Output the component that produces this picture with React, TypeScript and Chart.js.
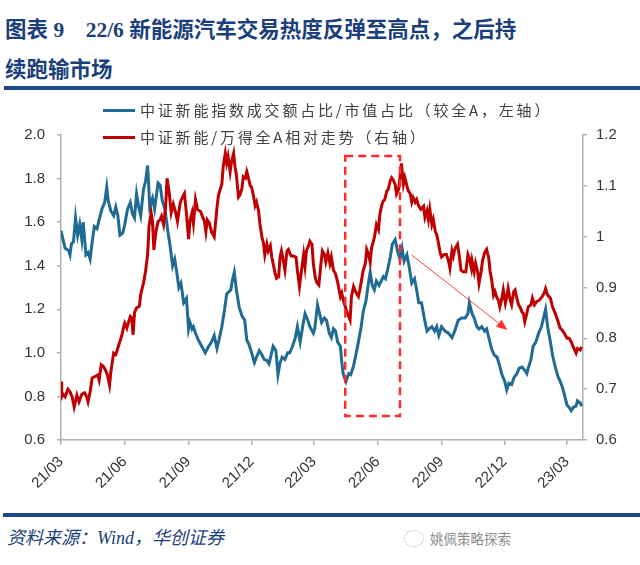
import React, { useEffect, useRef } from "react";
import { Chart, registerables } from "chart.js";

Chart.register(...registerables);

// ---- data ----
const titleLine1 = "图表 9　22/6 新能源汽车交易热度反弹至高点，之后持";
const titleLine2 = "续跑输市场";
const sourceText = "资料来源：Wind，华创证券";
const watermarkText = "姚佩策略探索";

const seriesNames = [
  "中证新能指数成交额占比/市值占比（较全A，左轴）",
  "中证新能/万得全A相对走势（右轴）",
];

// day offsets from 2021-03-01
const xTickDays = [0, 92, 184, 275, 365, 457, 549, 640, 730];
const xTickLabels = ["21/03", "21/06", "21/09", "21/12", "22/03", "22/06", "22/09", "22/12", "23/03"];
const xMaxDay = 753;

const blueDays = [
  0, 3, 6, 11, 13, 15, 18, 21, 24, 27, 30, 32, 36, 39, 42, 45, 48, 52, 55, 59, 63, 66, 68, 72, 76, 79, 82, 85, 89, 92,
  96, 100, 103, 106, 109, 112, 115, 119, 122, 125, 128, 132, 135, 140, 143, 146, 150, 154, 157, 161, 164, 167, 170, 173, 177,
  181, 184, 186, 189, 191, 194, 198, 203, 208, 213, 217, 221, 225, 228, 232, 236, 239, 242, 245, 247, 250, 253, 257, 261, 265,
  268, 271, 275, 279, 282, 286, 290, 293, 297, 300, 303, 306, 310, 313, 316, 319, 323, 327, 330, 334, 338, 341, 345, 348, 352,
  356, 359, 364, 366, 370, 376, 380, 383, 387, 390, 393, 396, 399, 403, 405, 407, 411, 415, 418, 422, 425, 429, 433, 436, 440,
  443, 446, 449, 452, 455, 459, 462, 465, 468, 471, 475, 478, 482, 486, 489, 492, 495, 499, 502, 506, 510, 513, 516, 520, 524,
  528, 531, 535, 539, 542, 545, 549, 554, 559, 564, 568, 573, 578, 583, 587, 589, 593, 596, 600, 603, 607, 611, 614, 618, 621,
  625, 629, 632, 636, 640, 643, 646, 650, 654, 657, 661, 665, 669, 672, 674, 678, 681, 685, 689, 693, 696, 699, 702, 706, 709,
  713, 717, 720, 723, 726, 730, 733, 736, 739, 743, 745, 749, 751,
];
const blueValues = [
  1.56, 1.52, 1.48, 1.47, 1.45, 1.5, 1.51, 1.62, 1.54, 1.59, 1.52, 1.6, 1.45, 1.46, 1.43, 1.51, 1.58, 1.57, 1.61, 1.66, 1.69, 1.76, 1.7, 1.65, 1.63, 1.67, 1.63, 1.54, 1.55, 1.59,
  1.66, 1.69, 1.64, 1.62, 1.73, 1.67, 1.63, 1.75, 1.79, 1.86, 1.67, 1.71, 1.66, 1.78, 1.77, 1.7, 1.66, 1.56, 1.5, 1.4, 1.43, 1.37, 1.3, 1.32, 1.23,
  1.25, 1.11, 1.14, 1.11, 1.12, 1.09, 1.06, 1.03, 1.0, 1.03, 1.05, 1.08, 1.02, 1.06, 1.12, 1.2, 1.27, 1.28, 1.29, 1.33, 1.37, 1.29, 1.21, 1.17, 1.15,
  1.06, 1.04, 1.0, 0.955, 0.98, 1.01, 0.99, 0.97, 0.965, 0.95, 0.99, 1.03, 1.01, 0.9, 0.955, 0.98, 0.97, 1.0, 1.0, 1.03, 1.07, 1.12, 1.05, 1.11, 1.18,
  1.15, 1.12, 1.09, 1.11, 1.22, 1.14, 1.16, 1.15, 1.09, 1.07, 1.11, 1.1, 1.05, 1.03, 0.96, 0.905, 0.868, 0.905, 0.9, 0.94, 0.985, 1.05, 1.12, 1.19, 1.24,
  1.31, 1.37, 1.31, 1.29, 1.33, 1.31, 1.33, 1.35, 1.34, 1.38, 1.44, 1.5, 1.52, 1.46, 1.43, 1.48, 1.42, 1.45, 1.4, 1.32, 1.34, 1.29, 1.23, 1.23, 1.16,
  1.1, 1.11, 1.12, 1.1, 1.12, 1.08, 1.12, 1.1, 1.09, 1.07, 1.1, 1.15, 1.16, 1.16, 1.18, 1.23, 1.18, 1.16, 1.12, 1.11, 1.12, 1.1, 1.11, 1.06, 1.02,
  0.99, 0.98, 0.95, 0.9, 0.87, 0.83, 0.86, 0.855, 0.89, 0.9, 0.93, 0.935, 0.92, 0.905, 0.93, 0.97, 1.03, 1.05, 1.09, 1.12, 1.16, 1.2, 1.12, 1.05, 0.99,
  0.935, 0.89, 0.87, 0.845, 0.81, 0.76, 0.75, 0.735, 0.75, 0.755, 0.78, 0.77, 0.755,
];

const redDays = [
  0, 1, 3, 6, 10, 13, 16, 19, 23, 26, 30, 34, 37, 39, 42, 45, 49, 53, 55, 58, 61, 64, 67, 70, 72, 76, 79, 82, 85, 88,
  90, 92, 95, 97, 100, 102, 104, 106, 109, 113, 115, 119, 122, 125, 127, 130, 132, 134, 137, 140, 143, 145, 148, 151, 153,
  156, 159, 162, 165, 168, 172, 175, 178, 181, 184, 186, 189, 191, 194, 197, 201, 204, 207, 209, 211, 214, 217, 221, 225, 227,
  229, 232, 234, 237, 239, 241, 244, 246, 249, 251, 253, 256, 258, 261, 263, 266, 268, 270, 273, 275, 278, 280, 282, 285, 287,
  290, 292, 294, 297, 299, 302, 304, 306, 309, 311, 314, 316, 318, 321, 323, 326, 328, 332, 335, 339, 341, 344, 347, 350, 352,
  354, 357, 359, 362, 364, 367, 369, 372, 375, 377, 380, 382, 385, 388, 390, 393, 396, 399, 403, 405, 407, 410, 412, 415, 417,
  419, 422, 424, 427, 429, 431, 434, 436, 439, 441, 443, 446, 448, 452, 455, 458, 460, 463, 465, 467, 470, 472, 475, 477, 479,
  482, 484, 487, 489, 491, 494, 496, 499, 501, 504, 506, 508, 511, 513, 516, 519, 523, 525, 528, 530, 532, 535, 537, 540, 542,
  544, 547, 549, 553, 556, 559, 561, 564, 566, 568, 572, 574, 577, 580, 584, 587, 589, 592, 593, 596, 598, 601, 603, 606, 608,
  611, 614, 617, 619, 621, 624, 626, 629, 631, 633, 636, 638, 641, 643, 645, 648, 650, 653, 655, 657, 660, 662, 665, 667, 669,
  672, 674, 678, 680, 683, 686, 690, 694, 697, 699, 702, 706, 709, 713, 717, 720, 723, 726, 730, 733, 736, 739, 743, 745, 749, 751,
];
const redValues = [
  0.715, 0.685, 0.69, 0.685, 0.7, 0.695, 0.685, 0.665, 0.688, 0.675, 0.69, 0.693, 0.685, 0.675, 0.695, 0.722, 0.725, 0.728, 0.718, 0.748, 0.745, 0.738, 0.728, 0.708, 0.735, 0.771, 0.768, 0.781, 0.794, 0.807,
  0.82, 0.83, 0.82, 0.83, 0.843, 0.84, 0.807, 0.85, 0.86, 0.863, 0.886, 0.909, 0.932, 0.965, 1.02, 1.047, 1.03, 0.974, 1.01, 1.03, 1.033, 1.04, 1.024, 1.06, 1.115,
  1.088, 1.047, 1.064, 1.05, 1.03, 1.067, 1.077, 1.085, 1.045, 0.995, 1.03, 1.047, 1.026, 1.073, 1.053, 1.05, 1.04, 1.03, 1.01, 1.033, 1.027, 1.01, 1.0, 1.057, 1.08,
  1.09, 1.103, 1.138, 1.164, 1.145, 1.158, 1.128, 1.148, 1.164, 1.138, 1.122, 1.078, 1.082, 1.095, 1.118, 1.115, 1.128, 1.118, 1.1, 1.097, 1.078, 1.061, 1.068, 1.051, 1.025,
  0.998, 0.988, 0.964, 0.985, 0.972, 0.982, 0.96, 0.947, 0.927, 0.918, 0.921, 0.96, 0.972, 0.95, 0.934, 0.972, 0.975, 0.962, 0.962, 0.96, 0.934, 0.902, 0.934, 0.965, 0.942,
  0.972, 0.982, 0.991, 0.985, 0.947, 0.918, 0.91, 0.905, 0.947, 0.972, 0.965, 0.95, 0.968, 0.947, 0.96, 0.934, 0.927, 0.911, 0.882, 0.889, 0.876, 0.863, 0.853, 0.843, 0.836,
  0.882, 0.902, 0.895, 0.886, 0.882, 0.895, 0.918, 0.934, 0.947, 0.975, 0.968, 0.95, 0.978, 0.998, 1.024, 1.014, 1.044, 1.064, 1.07, 1.073, 1.09, 1.093, 1.11, 1.116, 1.112,
  1.103, 1.084, 1.093, 1.116, 1.144, 1.103, 1.116, 1.1, 1.09, 1.084, 1.068, 1.077, 1.068, 1.073, 1.06, 1.054, 1.06, 1.038, 1.051, 1.034, 1.054, 1.024, 1.034, 1.01, 1.004,
  0.991, 0.968, 0.96, 0.965, 0.965, 0.952, 0.938, 0.972, 0.962, 0.975, 0.985, 0.968, 0.934, 0.931, 0.931, 0.965, 0.958, 0.938, 0.952, 0.931, 0.948, 0.931, 0.908, 0.931, 0.952,
  0.968, 0.975, 0.958, 0.931, 0.918, 0.885, 0.892, 0.879, 0.875, 0.862, 0.879, 0.895, 0.869, 0.882, 0.898, 0.875, 0.866, 0.892, 0.895, 0.882, 0.866, 0.862, 0.852, 0.849, 0.833,
  0.849, 0.862, 0.866, 0.879, 0.866, 0.872, 0.875, 0.882, 0.889, 0.898, 0.885, 0.879, 0.862, 0.849, 0.833, 0.82, 0.816, 0.81, 0.8, 0.8, 0.793, 0.783, 0.771, 0.78, 0.777, 0.783,
];

// annotation in data coordinates (days, left-axis values)
const boxDays = [410, 489];
const boxValues = [1.904, 0.71];
const arrowDays = [506, 644];
const arrowValues = [1.449, 1.105];

const BLUE = "#1f6b94";
const RED = "#c00000";
const NAVY = "#1b3f7c";
const AXIS = "#b0b0b0";
const TICK_TEXT = "#333333";

const annotationPlugin = {
  id: "boxArrow",
  afterDatasetsDraw(chart: any) {
    const { ctx, scales } = chart;
    const x = scales.x;
    const y = scales.y;
    ctx.save();
    const x1 = x.getPixelForValue(boxDays[0]);
    const x2 = x.getPixelForValue(boxDays[1]);
    const y1 = y.getPixelForValue(boxValues[0]);
    const y2 = y.getPixelForValue(boxValues[1]);
    ctx.strokeStyle = "#ff2a2a";
    ctx.lineWidth = 2.5;
    ctx.setLineDash([8, 5]);
    ctx.strokeRect(x1, y1, x2 - x1, y2 - y1);
    ctx.setLineDash([]);
    const ax1 = x.getPixelForValue(arrowDays[0]);
    const ay1 = y.getPixelForValue(arrowValues[0]);
    const ax2 = x.getPixelForValue(arrowDays[1]);
    const ay2 = y.getPixelForValue(arrowValues[1]);
    const ang = Math.atan2(ay2 - ay1, ax2 - ax1);
    const headLen = 11;
    const headW = 4.5;
    const bx = ax2 - headLen * Math.cos(ang);
    const by = ay2 - headLen * Math.sin(ang);
    ctx.strokeStyle = "#ff3b3b";
    ctx.fillStyle = "#ff2a2a";
    ctx.lineWidth = 1;
    ctx.beginPath();
    ctx.moveTo(ax1, ay1);
    ctx.lineTo(bx, by);
    ctx.stroke();
    ctx.beginPath();
    ctx.moveTo(ax2, ay2);
    ctx.lineTo(bx + headW * Math.sin(ang), by - headW * Math.cos(ang));
    ctx.lineTo(bx - headW * Math.sin(ang), by + headW * Math.cos(ang));
    ctx.closePath();
    ctx.fill();
    ctx.restore();
  },
};

export default function App() {
  const canvasRef = useRef<HTMLCanvasElement | null>(null);

  useEffect(() => {
    if (!canvasRef.current) return;
    const tickFont = { family: "'Liberation Sans', Arial, sans-serif", size: 15 };
    const chart = new Chart(canvasRef.current, {
      type: "line",
      data: {
        datasets: [
          {
            label: seriesNames[1],
            data: redDays.map((d, i) => ({ x: d, y: redValues[i] })),
            borderColor: RED,
            backgroundColor: RED,
            borderWidth: 3,
            pointRadius: 0,
            tension: 0,
            yAxisID: "y1",
          },
          {
            label: seriesNames[0],
            data: blueDays.map((d, i) => ({ x: d, y: blueValues[i] })),
            borderColor: BLUE,
            backgroundColor: BLUE,
            borderWidth: 3,
            pointRadius: 0,
            tension: 0,
            yAxisID: "y",
          },
        ],
      },
      options: {
        animation: false,
        responsive: false,
        maintainAspectRatio: false,
        layout: { padding: { top: 40, left: 0, right: 0, bottom: 0 } },
        plugins: { legend: { display: false }, tooltip: { enabled: false } },
        scales: {
          x: {
            type: "linear",
            min: 0,
            max: xMaxDay,
            afterBuildTicks: (s: any) => {
              s.ticks = xTickDays.map((v) => ({ value: v }));
            },
            afterFit: (s: any) => {
              s.height = 70;
            },
            ticks: {
              autoSkip: false,
              maxRotation: 45,
              minRotation: 45,
              padding: 8,
              color: TICK_TEXT,
              font: { family: "'Liberation Sans', Arial, sans-serif", size: 15 },
              callback: (_v: any, i: number) => xTickLabels[i],
            },
            grid: { display: true, drawOnChartArea: false, drawTicks: true, tickLength: 5, color: AXIS, lineWidth: 1.5 },
            border: { display: true, color: AXIS, width: 1.5 },
          },
          y: {
            position: "left",
            min: 0.6,
            max: 2.0,
            afterFit: (s: any) => {
              s.width = 61;
            },
            ticks: {
              stepSize: 0.2,
              padding: 12,
              color: TICK_TEXT,
              font: tickFont,
              callback: (v: any) => Number(v).toFixed(1),
            },
            grid: { display: true, drawOnChartArea: false, drawTicks: true, tickLength: 4, color: AXIS, lineWidth: 1.5 },
            border: { display: true, color: AXIS, width: 1.5 },
          },
          y1: {
            position: "right",
            min: 0.6,
            max: 1.2,
            afterFit: (s: any) => {
              s.width = 57;
            },
            ticks: {
              stepSize: 0.1,
              padding: 9,
              color: TICK_TEXT,
              font: tickFont,
              callback: (v: any) => String(Math.round(Number(v) * 10) / 10),
            },
            grid: { display: true, drawOnChartArea: false, drawTicks: true, tickLength: 4, color: AXIS, lineWidth: 1.5 },
            border: { display: true, color: AXIS, width: 1.5 },
          },
        },
      } as any,
      plugins: [annotationPlugin],
    });
    return () => chart.destroy();
  }, []);

  const cjk = "'Noto Sans CJK SC', 'Noto Sans', sans-serif";

  const legendRow = (color: string, text: string, centerY: number) => (
    <div
      style={{
        position: "absolute",
        left: 103,
        top: centerY - 11,
        height: 22,
        display: "flex",
        alignItems: "center",
        whiteSpace: "nowrap",
        zIndex: 2,
      }}
    >
      <span style={{ display: "inline-block", width: 32, height: 3, background: color, marginRight: 5 }} />
      <span style={{ fontFamily: cjk, fontSize: 15, color: "#404040", letterSpacing: "2.8px", lineHeight: "22px" }}>
        {text}
      </span>
    </div>
  );

  return (
    <div
      style={{
        position: "fixed",
        left: 0,
        top: 0,
        width: 640,
        height: 565,
        background: "#ffffff",
        overflow: "hidden",
      }}
    >
      <div
        style={{
          position: "absolute",
          left: 5,
          top: 10,
          color: NAVY,
          fontFamily: "'Liberation Serif', 'Noto Sans CJK SC', serif",
          fontWeight: "bold",
          fontSize: 21.5,
          lineHeight: "40px",
          whiteSpace: "nowrap",
        }}
      >
        <div>{titleLine1}</div>
        <div>{titleLine2}</div>
      </div>
      <div style={{ position: "absolute", left: 4, right: 0, top: 86, height: 4, background: "#1d4a86" }} />

      <canvas
        ref={canvasRef}
        width={640}
        height={415}
        style={{ position: "absolute", left: 0, top: 95, width: 640, height: 415, zIndex: 1 }}
      />

      {legendRow(BLUE, seriesNames[0], 110)}
      {legendRow(RED, seriesNames[1], 137)}

      <div style={{ position: "absolute", left: 3, right: 0, top: 513, height: 4, background: "#1d4a86" }} />
      <div
        style={{
          position: "absolute",
          left: 7,
          top: 526,
          color: NAVY,
          fontFamily: "'Liberation Serif', 'Noto Sans CJK SC', serif",
          fontStyle: "italic",
          fontSize: 18,
          lineHeight: "24px",
          whiteSpace: "nowrap",
        }}
      >
        {sourceText}
      </div>
      <div
        style={{
          position: "absolute",
          left: 404,
          top: 529,
          display: "flex",
          alignItems: "center",
          whiteSpace: "nowrap",
        }}
      >
        <span
          style={{
            display: "inline-block",
            width: 18,
            height: 15,
            borderRadius: "50%",
            border: "1.5px dotted #b0b0b0",
            marginRight: 6,
          }}
        />
        <span style={{ fontFamily: cjk, fontSize: 13.5, color: "#8c8c8c", lineHeight: "18px" }}>{watermarkText}</span>
      </div>
    </div>
  );
}
